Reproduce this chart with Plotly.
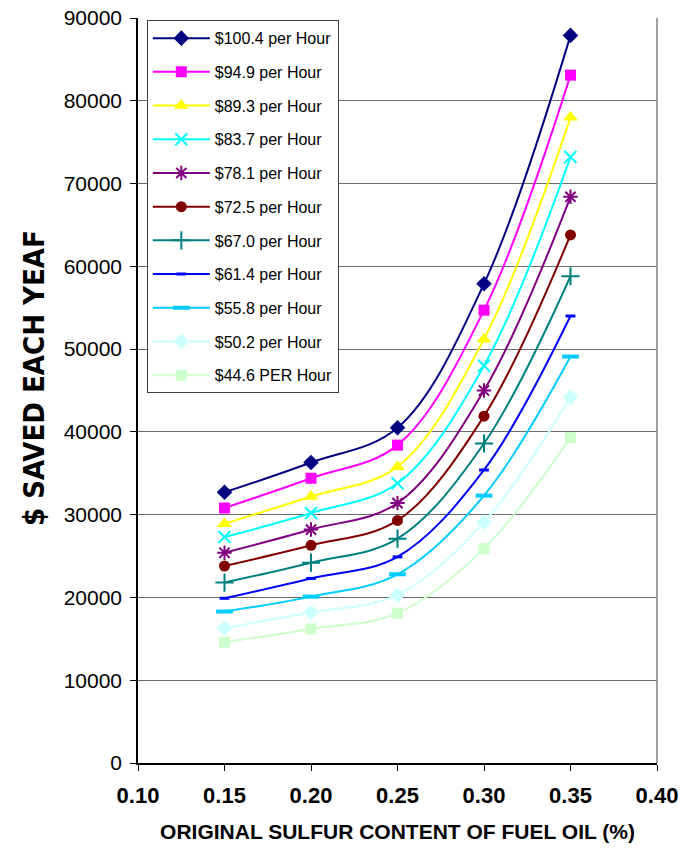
import plotly.graph_objects as go

x_vals = [0.15, 0.20, 0.25, 0.30, 0.35]

s100_4 = [32700, 36300, 40500, 57900, 87900]
s94_9 = [30800, 34400, 38400, 54700, 83100]
s89_3 = [28900, 32200, 35800, 51200, 78000]
s83_7 = [27300, 30200, 33800, 48000, 73200]
s78_1 = [25400, 28200, 31400, 45000, 68400]
s72_5 = [23800, 26300, 29300, 41900, 63800]
s67_0 = [21800, 24200, 27100, 38600, 58800]
s61_4 = [19900, 22300, 24900, 35400, 54000]
s55_8 = [18300, 20100, 22800, 32300, 49100]
s50_2 = [16300, 18200, 20300, 29100, 44200]
s44_6 = [14600, 16200, 18100, 25900, 39300]

labels = ["$100.4 per Hour", "$94.9 per Hour", "$89.3 per Hour", "$83.7 per Hour",
          "$78.1 per Hour", "$72.5 per Hour", "$67.0 per Hour", "$61.4 per Hour",
          "$55.8 per Hour", "$50.2 per Hour", "$44.6 PER Hour"]
series = [s100_4, s94_9, s89_3, s83_7, s78_1, s72_5, s67_0, s61_4, s55_8, s50_2, s44_6]
colors = ["#000080", "#FF00FF", "#FFFF00", "#00FFFF", "#800080", "#800000",
          "#008080", "#0000FF", "#00CCFF", "#CCFFFF", "#CCFFCC"]
symbols = ["diamond", "square", "triangle-up", "x-thin", "asterisk", "circle",
           "cross-thin", "line-ew", "line-ew", "diamond", "square"]
sizes = [12, 11, 13, 12, 12, 11, 13, 7, 12, 12, 11]
mline = [0, 0, 0, 2, 2, 0, 2, 3, 4, 0, 0]

FONT = "Arial, Liberation Sans, sans-serif"

fig = go.Figure()
for i, (lab, ys, c, sym, sz, lw) in enumerate(zip(labels, series, colors, symbols, sizes, mline)):
    fig.add_trace(go.Scatter(
        x=x_vals, y=ys, name=lab, mode="lines+markers",
        line=dict(color=c, width=2, shape="spline", smoothing=1.0),
        marker=dict(symbol=sym, size=sz, color=c, line=dict(color=c, width=lw)),
        legendgroup=f"g{i}",
    ))

fig.update_layout(
    width=683, height=848,
    margin=dict(l=138, r=26, t=18, b=85, autoexpand=False),
    paper_bgcolor="white", plot_bgcolor="white",
    font=dict(family=FONT, color="black"),
    showlegend=True,
    legend=dict(
        x=0.017, y=0.997, xanchor="left", yanchor="top",
        bordercolor="#404040", borderwidth=1, bgcolor="white",
        font=dict(size=16, family=FONT, color="black"),
        tracegroupgap=9.9, itemwidth=57,
    ),
    xaxis=dict(
        range=[0.10, 0.40], dtick=0.05, tick0=0.10, tickformat=".2f",
        showgrid=False, zeroline=False, automargin=False, ticklabeloverflow="allow",
        showline=True, linecolor="black", linewidth=1.5,
        ticks="outside", ticklen=6, tickcolor="black", ticklabelstandoff=6,
        tickfont=dict(size=22, family=FONT, weight="bold"),
        title=dict(text="<b>ORIGINAL SULFUR CONTENT OF FUEL OIL (%)</b>",
                   font=dict(size=21, family=FONT), standoff=17),
    ),
    yaxis=dict(
        range=[0, 90000], dtick=10000, tickformat="d",
        showgrid=True, gridcolor="#6a6a6a", gridwidth=1, zeroline=False, automargin=False,
        ticklabeloverflow="allow",
        showline=True, linecolor="black", linewidth=1.5,
        ticks="outside", ticklen=6, tickcolor="black", ticklabelstandoff=4,
        tickfont=dict(size=21, family=FONT),
    ),
    shapes=[dict(type="line", xref="paper", yref="paper", x0=1, x1=1, y0=0, y1=1,
                 line=dict(color="#808080", width=1.5))],
    annotations=[dict(
        text="<b>$ SAVED EACH YEAF</b>", textangle=-90,
        xref="paper", yref="paper", x=-0.2, y=0.517,
        xanchor="center", yanchor="middle", showarrow=False,
        font=dict(size=29, family="Liberation Sans Narrow, DejaVu Sans Condensed, Arial Narrow, sans-serif",
                  color="black"),
    )],
)

fig.write_html("out.html", config={"displayModeBar": False},
               post_script="document.body.style.margin='0';document.body.style.overflow='hidden';")
